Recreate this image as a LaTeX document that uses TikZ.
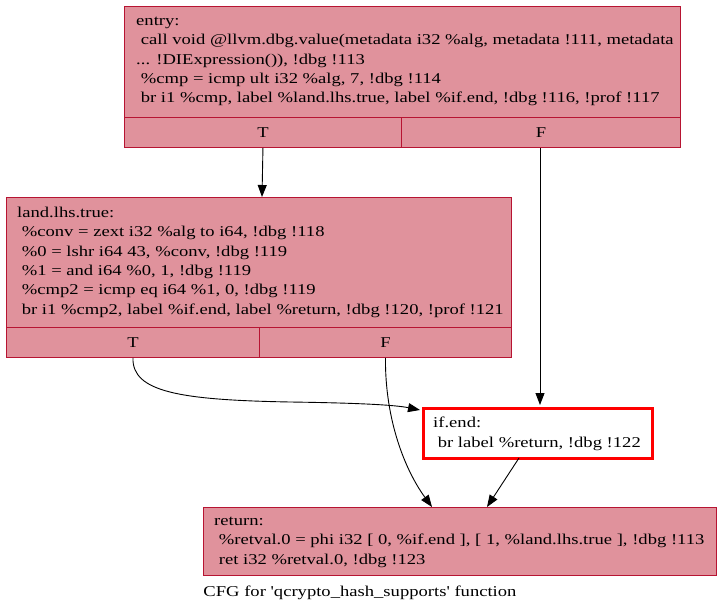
\documentclass[tikz,border=0pt]{standalone}
\usepackage{fontspec}
\setmainfont{Liberation Serif}[Ligatures=TeXOff,FakeStretch=1.24]
\usetikzlibrary{arrows.meta,calc}
\definecolor{blkfill}{RGB}{224,146,156}
\definecolor{blkdraw}{RGB}{183,20,50}
\begin{document}
\begin{tikzpicture}[x=1pt,y=-1pt,
  block/.style={draw=blkdraw,fill=blkfill,line width=0.9pt,rectangle,anchor=north west,inner sep=0pt},
  cell/.style={draw=blkdraw,fill=blkfill,line width=0.9pt,rectangle,anchor=north west,inner sep=0pt,font=\fontsize{15pt}{19pt}\selectfont},
  code/.style={anchor=north west,inner sep=0pt,align=left,font=\fontsize{15pt}{19.3pt}\selectfont},
  edge/.style={draw=black,line width=0.9pt,-{Triangle[length=12pt,width=9pt]}}]
\useasboundingbox (0,0) rectangle (721,615);
% entry
\node[block,minimum width=556pt,minimum height=111pt] (entry) at (124,6) {};
\node[cell,minimum width=277pt,minimum height=30pt] (entryT) at (124,117) {T};
\node[cell,minimum width=279pt,minimum height=30pt] (entryF) at (401,117) {F};
\node[code] (entrytext) at (136,17) {entry:\\\ call void @llvm.dbg.value(metadata i32 \%alg, metadata !111, metadata\\... !DIExpression()), !dbg !113\\\ \%cmp = icmp ult i32 \%alg, 7, !dbg !114\\\ br i1 \%cmp, label \%land.lhs.true, label \%if.end, !dbg !116, !prof !117};
% land.lhs.true
\node[block,minimum width=505pt,minimum height=130pt] (land) at (6,197) {};
\node[cell,minimum width=253pt,minimum height=30pt] (landT) at (6,327) {T};
\node[cell,minimum width=252pt,minimum height=30pt] (landF) at (259,327) {F};
\node[code] (landtext) at (17,207) {land.lhs.true:\\\ \%conv = zext i32 \%alg to i64, !dbg !118\\\ \%0 = lshr i64 43, \%conv, !dbg !119\\\ \%1 = and i64 \%0, 1, !dbg !119\\\ \%cmp2 = icmp eq i64 \%1, 0, !dbg !119\\\ br i1 \%cmp2, label \%if.end, label \%return, !dbg !120, !prof !121};
% if.end
\node[draw=red,fill=white,line width=3pt,rectangle,anchor=north west,minimum width=229pt,minimum height=50pt] (ifend) at (422,407) {};
\node[code] (ifendtext) at (433,417) {if.end:\\\ br label \%return, !dbg !122};
% return
\node[block,minimum width=513pt,minimum height=68pt] (ret) at (203,507) {};
\node[code] (rettext) at (214,517) {return:\\\ \%retval.0 = phi i32 [ 0, \%if.end ], [ 1, \%land.lhs.true ], !dbg !113\\\ ret i32 \%retval.0, !dbg !123};
% caption
\node[inner sep=0pt,font=\fontsize{15pt}{17pt}\selectfont] (caption) at (360,593) {CFG for 'qcrypto\_hash\_supports' function};
% edges
\coordinate (landin) at (262,197);
\coordinate (ifendtop) at (540,405);
\coordinate (ifendleft) at (420,410);
\coordinate (rettop1) at (432,507);
\coordinate (rettop2) at (487,507);
\coordinate (ifendbot) at (519,458);
\coordinate (midT) at (290,402);
\draw[edge] (entryT.south) -- (landin);
\draw[edge] (entryF.south -| ifendtop) -- (ifendtop);
\draw[edge] (landT.south) .. controls (132,392) and (180,400) .. (midT) .. controls (360,403) and (395,405) .. (ifendleft);
\draw[edge] (landF.south) .. controls (385,420) and (405,470) .. (rettop1);
\draw[edge] (ifendbot) -- (rettop2);
\end{tikzpicture}
\end{document}
